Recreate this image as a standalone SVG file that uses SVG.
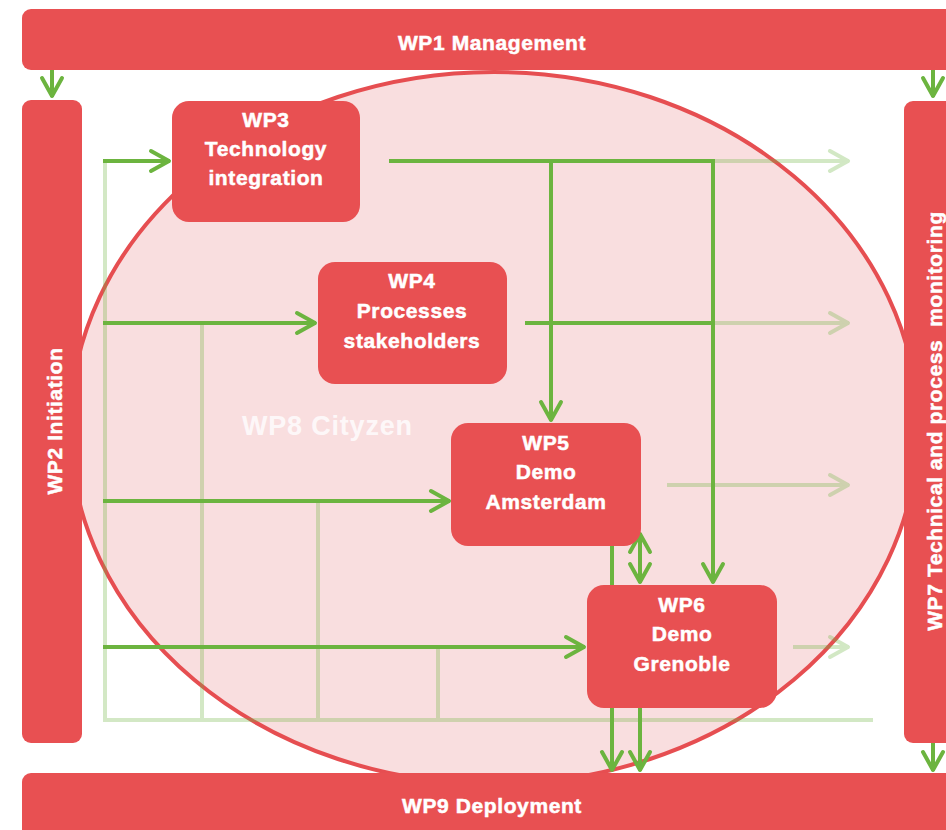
<svg xmlns="http://www.w3.org/2000/svg" width="946" height="830" viewBox="0 0 946 830">
<style>
.bar{fill:#e85052}
.node{fill:#e85052}
.t{font-family:"Liberation Sans",Arial,sans-serif;font-weight:bold;font-size:21px;fill:#fff;stroke:#fff;stroke-width:0.5;text-anchor:middle;letter-spacing:0.6px}
.g{fill:none;stroke:#6cb43f;stroke-width:4}
</style>
<defs>
<marker id="ah" viewBox="-22 -12 24 24" refX="0" refY="0" markerWidth="24" markerHeight="24" markerUnits="userSpaceOnUse" orient="auto-start-reverse" overflow="visible">
<path d="M-19,-10 L-1,0 L-19,10" fill="none" stroke="#6cb43f" stroke-width="4" stroke-linecap="round" stroke-linejoin="round"/>
</marker>
</defs>
<rect width="946" height="830" fill="#fff"/>
<g id="wp8">
<ellipse cx="494" cy="428" rx="424" ry="356" fill="#f9dedf" stroke="#e64e51" stroke-width="4"/>
<text x="242" y="435" style="font-family:'Liberation Sans',Arial,sans-serif;font-weight:bold;font-size:27px;letter-spacing:0.8px" fill="#fff" fill-opacity="0.8">WP8 Cityzen</text>
</g>
<g id="connectors">
<g opacity="0.3">
<path class="g" d="M105,160 V720 H873 M202,323 V720 M318,500 V720 M438,647 V720"/>
<path class="g" d="M713,161 H849" marker-end="url(#ah)"/>
<path class="g" d="M713,323 H849" marker-end="url(#ah)"/>
<path class="g" d="M667,485 H849" marker-end="url(#ah)"/>
<path class="g" d="M793,647 H849" marker-end="url(#ah)"/>
</g>
<path class="g" d="M52,70 V97" marker-end="url(#ah)"/>
<path class="g" d="M933,70 V97" marker-end="url(#ah)"/>
<path class="g" d="M933,743 V771" marker-end="url(#ah)"/>
<path class="g" d="M103,161 H170" marker-end="url(#ah)"/>
<path class="g" d="M103,323 H316" marker-end="url(#ah)"/>
<path class="g" d="M103,501 H450" marker-end="url(#ah)"/>
<path class="g" d="M103,647 H585" marker-end="url(#ah)"/>
<path class="g" d="M389,161 H715"/>
<path class="g" d="M551,161 V421" marker-end="url(#ah)"/>
<path class="g" d="M713,159 V583" marker-end="url(#ah)"/>
<path class="g" d="M525,323 H713"/>
<path class="g" d="M612,540 V771" marker-end="url(#ah)"/>
<path class="g" d="M640,533 V583" marker-start="url(#ah)" marker-end="url(#ah)"/>
<path class="g" d="M640,700 V771" marker-end="url(#ah)"/>
</g>
<g id="wp1"><rect class="bar" x="22" y="9" width="940" height="61" rx="9"/><text class="t" x="492" y="50">WP1 Management</text></g>
<g id="wp2"><rect class="bar" x="22" y="100" width="60" height="643" rx="9"/><text class="t" transform="translate(62,421) rotate(-90)">WP2 Initiation</text></g>
<g id="wp7"><rect class="bar" x="904" y="101" width="60" height="642" rx="9"/><text class="t" transform="translate(942,421) rotate(-90)" xml:space="preserve">WP7 Technical and process  monitoring</text></g>
<g id="wp9"><rect class="bar" x="22" y="773" width="940" height="70" rx="9"/><text class="t" x="492" y="813">WP9 Deployment</text></g>
<g id="wp3"><rect class="node" x="172" y="101" width="188" height="121" rx="17"/><text class="t" x="266" y="127">WP3</text><text class="t" x="266" y="156">Technology</text><text class="t" x="266" y="185">integration</text></g>
<g id="wp4"><rect class="node" x="318" y="262" width="189" height="122" rx="17"/><text class="t" x="412" y="288">WP4</text><text class="t" x="412" y="318">Processes</text><text class="t" x="412" y="348">stakeholders</text></g>
<g id="wp5"><rect class="node" x="451" y="423" width="190" height="123" rx="17"/><text class="t" x="546" y="450">WP5</text><text class="t" x="546" y="479">Demo</text><text class="t" x="546" y="509">Amsterdam</text></g>
<g id="wp6"><rect class="node" x="587" y="585" width="190" height="123" rx="17"/><text class="t" x="682" y="612">WP6</text><text class="t" x="682" y="641">Demo</text><text class="t" x="682" y="671">Grenoble</text></g>
</svg>
